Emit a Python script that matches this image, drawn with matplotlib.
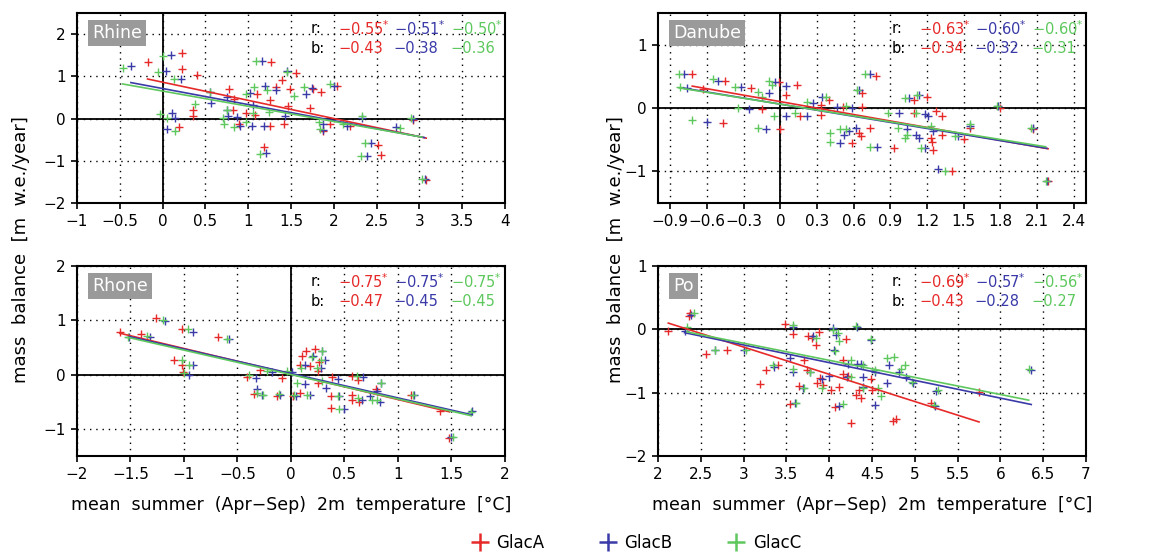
import numpy as np
import matplotlib.pyplot as plt
from matplotlib.lines import Line2D

# colours of the three glacier models
colors = ['#e62a2a', '#3a3aa8', '#5ec85e']
glaciers = ['GlacA', 'GlacB', 'GlacC']

# ---- Rhine ----
rhine_x_a = [-0.175, 0.226, 0.226, 0.40, 0.19, 0.36, 0.35, 0.78, 0.83, 0.82, 0.89, 0.98, 1.10, 1.08, 1.27,
             1.26, 1.33, 1.26, 1.18, 1.40, 1.42, 1.46, 1.49, 1.56, 1.72, 1.76, 1.85, 1.87, 1.96, 2.04, 2.19,
             2.52, 2.55, 2.93, 3.08]
rhine_y_a = [1.34, 1.54, 1.18, 1.04, -0.19, 0.21, 0.07, 0.70, 0.47, 0.21, -0.14, 0.13, 0.58, 0.09, 1.33,
             0.45, 0.75, -0.17, -0.67, 0.90, -0.14, 0.30, 0.70, 1.08, 0.25, 0.70, 0.62, -0.30, -0.12, 0.78,
             -0.17, -0.63, -0.87, -0.04, -1.46]
rhine_x_b = [-0.37, 0.10, 0.04, 0.22, 0.105, 0.14, 0.05, 0.55, 0.56, 0.75, 0.75, 0.77, 0.87, 1.02, 1.06,
             1.04, 0.91, 1.16, 1.20, 1.32, 1.21, 1.18, 1.45, 1.43, 1.67, 1.74, 1.87, 1.87, 2.00, 2.15, 2.33,
             2.39, 2.44, 2.73, 2.93, 3.06]
rhine_y_b = [1.24, 1.51, 1.12, 0.94, 0.12, 0.01, -0.26, 0.63, 0.37, 0.51, 0.21, 0.05, 0.04, 0.61, 0.33,
             -0.18, -0.18, 1.35, 0.78, 0.67, -0.81, -0.18, 1.12, 0.07, 0.57, 0.72, -0.12, -0.28, 0.78, -0.17,
             0.02, -0.89, -0.57, -0.20, 0.00, -1.44]
rhine_x_c = [-0.467, 0.0, -0.055, 0.128, -0.035, 0.05, 0.14, 0.38, 1.09, 1.45, 0.98, 1.07, 1.22, 0.71, 0.72,
             0.83, 0.98, 1.06, 1.14, 1.24, 1.54, 1.65, 1.96, 1.83, 1.84, 2.11, 2.33, 2.37, 2.32, 2.77, 2.90,
             3.03, 0.55, 0.75]
rhine_y_c = [1.20, 1.49, 1.10, 0.94, 0.11, 0.01, -0.29, 0.35, 1.35, 1.09, 0.59, 0.75, 0.68, 0.02, -0.13,
             -0.20, -0.09, 0.13, -0.85, 0.15, 0.53, 0.75, 0.82, -0.09, -0.26, -0.14, 0.05, -0.57, -0.89, -0.22,
             0.02, -1.44, 0.62, 0.20]
rhine_r = [-0.55, -0.51, -0.50]
rhine_b = [-0.43, -0.38, -0.36]
rhine_a = [0.86, 0.71, 0.65]

# ---- Danube ----
danube_x_a = [-0.72, -0.63, -0.47, -0.45, -0.24, -0.15, 0.0, -0.01, 0.05, 0.14, 0.16, 0.33, 0.33, 0.40, 0.51,
              0.59, 0.64, 0.66, 0.67, 0.67, 0.78, 0.73, 0.93, 1.09, 1.09, 1.20, 1.23, 1.24, 1.25, 1.27, 1.32,
              1.32, 1.40, 1.50, 1.55, 1.80, 2.07, 2.19]
danube_y_a = [0.53, 0.30, -0.23, 0.43, 0.32, -0.02, -0.34, 0.41, 0.21, 0.37, -0.13, 0.05, -0.11, 0.13, 0.01,
              -0.55, -0.39, -0.45, 0.02, 0.23, 0.50, -0.32, -0.63, -0.08, 0.13, 0.18, -0.47, -0.53, -0.66, -0.05,
              -0.13, -0.42, -1.00, -0.49, -0.32, 0.00, -0.34, -1.16]
danube_x_b = [-0.79, -0.76, -0.60, -0.51, -0.32, -0.26, -0.12, -0.09, -0.04, 0.05, 0.05, 0.22, 0.27, 0.34, 0.46,
              0.49, 0.52, 0.56, 0.59, 0.62, 0.64, 0.73, 0.79, 0.97, 1.05, 1.04, 1.11, 1.13, 1.13, 1.18, 1.18,
              1.21, 1.25, 1.29, 1.45, 1.55, 1.78, 2.07, 2.18]
danube_y_b = [0.54, 0.32, -0.22, 0.43, 0.33, -0.02, -0.33, 0.23, 0.41, -0.13, 0.34, -0.12, 0.08, 0.17, 0.01,
              -0.55, -0.42, -0.37, 0.00, -0.32, 0.28, 0.53, -0.61, -0.08, 0.16, -0.34, -0.42, -0.47, 0.21, -0.10,
              -0.63, -0.12, -0.37, -0.97, -0.45, -0.28, 0.03, -0.32, -1.16]
danube_x_c = [-0.83, -0.82, -0.72, -0.55, -0.37, -0.35, -0.18, -0.18, -0.15, -0.09, -0.07, -0.05, 0.12, 0.22,
              0.37, 0.41, 0.41, 0.49, 0.54, 0.54, 0.63, 0.69, 0.73, 0.88, 0.96, 1.02, 1.02, 1.04, 1.12, 1.11,
              1.15, 1.23, 1.35, 1.43, 1.55, 1.77, 2.05, 2.17]
danube_y_c = [0.54, 0.33, -0.19, 0.45, 0.33, 0.00, -0.32, 0.25, 0.18, 0.43, 0.37, -0.12, -0.08, 0.10, 0.18,
              -0.39, -0.53, -0.34, -0.33, 0.03, 0.28, 0.53, -0.61, -0.08, -0.32, 0.16, -0.47, -0.42, 0.21, -0.08,
              -0.63, -0.29, -1.00, -0.45, -0.26, 0.03, -0.32, -1.16]
danube_r = [-0.63, -0.60, -0.60]
danube_b = [-0.34, -0.32, -0.31]
danube_a = [0.10, 0.06, 0.06]

# ---- Rhone ----
rhone_x_a = [-1.60, -1.40, -1.26, -1.09, -1.02, -1.02, -1.01, -0.68, -0.41, -0.35, -0.29, -0.13, -0.08, 0.02,
             0.08, 0.08, 0.10, 0.14, 0.18, 0.22, 0.25, 0.26, 0.25, 0.37, 0.37, 0.38, 0.57, 0.57, 0.57, 0.63,
             0.64, 0.79, 1.12, 1.39, 1.48]
rhone_y_a = [0.78, 0.75, 1.04, 0.27, 0.84, 0.18, 0.04, 0.69, -0.05, -0.35, 0.08, -0.40, -0.06, -0.40, 0.18,
             -0.34, 0.34, 0.43, 0.16, 0.48, 0.06, 0.24, -0.15, -0.40, -0.61, -0.05, -0.02, -0.38, -0.46, -0.10,
             -0.50, -0.27, -0.38, -0.68, -1.16]
rhone_x_b = [-1.51, -1.32, -1.18, -0.92, -0.92, -0.95, -0.58, -0.33, -0.32, -0.27, -0.18, -0.10, 0.01, 0.05,
             0.13, 0.13, 0.18, 0.21, 0.29, 0.28, 0.32, 0.33, 0.44, 0.45, 0.50, 0.67, 0.66, 0.74, 0.80, 0.83,
             0.84, 1.15, 1.50, 1.69]
rhone_y_b = [0.70, 0.69, 0.99, 0.17, 0.79, 0.00, 0.65, -0.06, -0.27, -0.37, 0.04, -0.37, 0.04, -0.40, -0.18,
             0.18, -0.37, 0.34, 0.43, 0.12, 0.26, -0.24, -0.08, -0.40, -0.63, -0.05, -0.47, -0.40, -0.30, -0.51,
             -0.15, -0.37, -1.15, -0.67]
rhone_x_c = [-1.52, -1.35, -1.20, -1.02, -0.96, -0.95, -1.00, -0.60, -0.39, -0.32, -0.26, -0.22, -0.11, -0.04,
             0.03, 0.06, 0.09, 0.15, 0.20, 0.28, 0.29, 0.24, 0.29, 0.44, 0.45, 0.62, 0.63, 0.76, 0.80, 0.84,
             1.14, 1.51, 1.68]
rhone_y_c = [0.69, 0.71, 1.00, 0.26, 0.84, 0.18, 0.02, 0.66, 0.00, -0.34, -0.38, 0.06, -0.35, 0.06, -0.38,
             -0.15, 0.12, -0.37, 0.32, 0.27, 0.43, 0.12, -0.12, -0.40, -0.63, -0.03, -0.43, -0.47, -0.46, -0.15,
             -0.38, -1.15, -0.69]
rhone_r = [-0.75, -0.75, -0.75]
rhone_b = [-0.47, -0.45, -0.45]
rhone_a = [0.01, 0.02, 0.0]

# ---- Po ----
po_x_a = [2.12, 2.37, 2.36, 2.56, 2.81, 3.19, 3.26, 3.40, 3.48, 3.54, 3.58, 3.65, 3.71, 3.74, 3.75, 3.80, 3.84,
          3.86, 3.88, 3.89, 3.93, 4.02, 4.07, 4.11, 4.20, 4.16, 4.16, 4.22, 4.25, 4.31, 4.37, 4.35, 4.49, 4.50,
          4.74, 4.78, 5.19, 5.75]
po_y_a = [-0.02, 0.26, 0.21, -0.39, -0.32, -0.87, -0.65, -0.56, 0.08, -1.18, -0.07, -0.89, -0.49, -0.65, -0.11,
          -0.14, -0.25, -0.84, -0.04, -0.77, -0.88, -0.95, -1.22, -0.91, -0.16, -0.48, -0.71, -0.74, -1.48,
          -1.04, -1.09, -0.95, -0.79, -0.95, -1.44, -1.42, -1.17, -0.99]
po_x_b = [2.31, 2.39, 2.67, 3.01, 3.35, 3.54, 3.58, 3.58, 3.60, 3.69, 3.78, 3.81, 3.92, 4.00, 4.04, 4.06, 4.08,
          4.11, 4.22, 4.21, 4.32, 4.32, 4.37, 4.39, 4.39, 4.49, 4.53, 4.54, 4.67, 4.70, 4.82, 4.90, 4.98, 5.25,
          5.24, 6.36]
po_y_b = [-0.02, 0.23, -0.33, -0.32, -0.59, -0.46, 0.03, -0.68, -1.17, -0.92, -0.67, -0.11, -0.79, -0.74, 0.02,
          -0.33, -0.09, -1.21, -0.54, -0.76, 0.03, -0.54, -0.55, -0.75, -0.91, -0.17, -0.67, -1.19, -0.85, -0.56,
          -0.67, -0.75, -0.85, -0.98, -1.21, -0.64]
po_x_c = [2.34, 2.42, 2.66, 3.03, 3.34, 3.58, 3.58, 3.61, 3.70, 3.77, 3.85, 3.91, 4.04, 4.07, 4.10, 4.11, 4.16,
          4.26, 4.25, 4.31, 4.39, 4.39, 4.49, 4.53, 4.61, 4.57, 4.67, 4.76, 4.84, 4.88, 4.97, 5.22, 5.27, 6.33]
po_y_c = [0.03, 0.26, -0.32, -0.33, -0.56, 0.07, -0.62, -1.17, -0.92, -0.68, -0.13, -0.93, -0.01, -0.35, -0.06,
          -0.19, -1.18, -0.48, -0.75, 0.05, -0.56, -0.92, -0.16, -0.64, -1.06, -0.92, -0.45, -0.44, -0.62, -0.56,
          -0.83, -1.19, -0.95, -0.62]
po_r = [-0.69, -0.57, -0.56]
po_b = [-0.43, -0.28, -0.27]
po_a = [1.01, 0.594, 0.591]

panels = [
    ('Rhine', [rhine_x_a, rhine_x_b, rhine_x_c], [rhine_y_a, rhine_y_b, rhine_y_c], rhine_r, rhine_b, rhine_a,
     (-1, 4), np.arange(-1, 4.01, 0.5), (-2, 2.5), [-2, -1, 0, 1, 2]),
    ('Danube', [danube_x_a, danube_x_b, danube_x_c], [danube_y_a, danube_y_b, danube_y_c], danube_r, danube_b,
     danube_a, (-1.0, 2.5), np.arange(-0.9, 2.41, 0.3), (-1.5, 1.5), [-1, 0, 1]),
    ('Rhone', [rhone_x_a, rhone_x_b, rhone_x_c], [rhone_y_a, rhone_y_b, rhone_y_c], rhone_r, rhone_b, rhone_a,
     (-2, 2), np.arange(-2, 2.01, 0.5), (-1.5, 2), [-1, 0, 1, 2]),
    ('Po', [po_x_a, po_x_b, po_x_c], [po_y_a, po_y_b, po_y_c], po_r, po_b, po_a,
     (2, 7), np.arange(2, 7.01, 0.5), (-2, 1), [-2, -1, 0, 1]),
]

positions = [
    [0.067, 0.633, 0.3725, 0.3436],
    [0.5727, 0.633, 0.3725, 0.3436],
    [0.067, 0.1754, 0.3725, 0.3436],
    [0.5727, 0.1754, 0.3725, 0.3436],
]


def fmt(v):
    s = ('%.2f' % v).rstrip('0').rstrip('.') if False else '%.2f' % v
    return s.replace('-', '\u2212')


def tick_fmt(v):
    s = ('%.1f' % v).rstrip('0').rstrip('.')
    if s in ('-0', ''):
        s = '0'
    return s.replace('-', '\u2212')


fig = plt.figure(figsize=(11.49, 5.53), dpi=100)

for i, (name, xs, ys, rs, bs, as_, xlim, xticks, ylim, yticks) in enumerate(panels):
    ax = fig.add_axes(positions[i])
    for xv in xticks:
        ax.axvline(xv, color='black', lw=1, ls=(0, (1, 3.5)), zorder=1)
    for yv in yticks:
        ax.axhline(yv, color='black', lw=1, ls=(0, (1, 3.5)), zorder=1)
    ax.axhline(0, color='black', lw=1.3, zorder=2)
    if xlim[0] < 0 < xlim[1]:
        ax.axvline(0, color='black', lw=1.3, zorder=2)

    for k in range(3):
        ax.plot(xs[k], ys[k], '+', color=colors[k], ms=6, mew=1.0, zorder=3)
    for k in range(3):
        xx = np.array([min(xs[k]), max(xs[k])])
        ax.plot(xx, as_[k] + bs[k] * xx, '-', color=colors[k], lw=1.2, zorder=4)

    ax.set_xlim(xlim)
    ax.set_ylim(ylim)
    ax.set_xticks(xticks)
    ax.set_xticklabels([tick_fmt(v) for v in xticks])
    ax.set_yticks(yticks)
    ax.set_yticklabels([tick_fmt(v) for v in yticks])
    ax.tick_params(direction='out', length=4, width=1.2, labelsize=11, pad=4)
    for sp in ax.spines.values():
        sp.set_linewidth(1.5)

    ax.text(0.035, 0.895, name, transform=ax.transAxes, color='white', fontsize=12.5,
            ha='left', va='center', zorder=6,
            bbox=dict(boxstyle='square,pad=0.25', facecolor='#9a9a9a', edgecolor='none'))

    ax.text(0.545, 0.918, 'r:', transform=ax.transAxes, fontsize=10.5, ha='left', va='center', zorder=6)
    ax.text(0.545, 0.812, 'b:', transform=ax.transAxes, fontsize=10.5, ha='left', va='center', zorder=6)
    xpos = [0.61, 0.74, 0.873]
    for k in range(3):
        ax.text(xpos[k], 0.918, fmt(rs[k]) + r'$^{*}$', transform=ax.transAxes, fontsize=10.5,
                color=colors[k], ha='left', va='center', zorder=6)
        ax.text(xpos[k], 0.812, fmt(bs[k]), transform=ax.transAxes, fontsize=10.5,
                color=colors[k], ha='left', va='center', zorder=6)

    if i >= 2:
        ax.set_xlabel('mean  summer  (Apr\u2212Sep)  2m  temperature  [\u00b0C]', fontsize=12.5, labelpad=10)

for xf in (0.018, 0.536):
    fig.text(xf, 0.548, 'mass  balance  [m  w.e./year]', rotation=90, fontsize=13,
             ha='center', va='center')

handles = [Line2D([], [], ls='none', marker='+', ms=13, mew=1.8, color=c) for c in colors]
fig.legend(handles, glaciers, loc='center', bbox_to_anchor=(0.553, 0.018), ncol=3, frameon=False,
           fontsize=12, columnspacing=3.2, handletextpad=0.4, handlelength=1.2)

fig.savefig('out.png', dpi=100)
